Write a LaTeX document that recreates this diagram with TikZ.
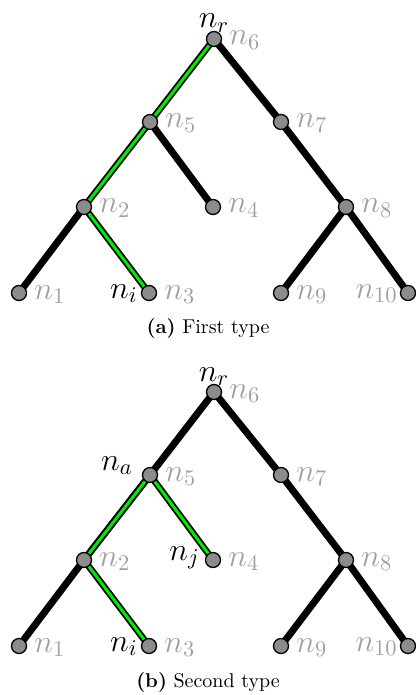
\RequirePackage{fix-cm}
\documentclass[tikz,border=0pt]{standalone}
\usetikzlibrary{backgrounds}
\definecolor{nodegray}{RGB}{140,140,140}
\definecolor{labelgray}{RGB}{160,160,160}
\definecolor{pathgreen}{RGB}{0,235,0}
\tikzset{
  vert/.style={circle,draw=black,line width=0.65pt,fill=nodegray,minimum size=7.5pt,inner sep=0pt},
  edge/.style={line width=3.5pt,black},
  pathout/.style={line width=3.3pt,black},
  pathin/.style={line width=1.5pt,pathgreen},
  idlbl/.style={text=labelgray,inner sep=0pt,font=\fontsize{16}{18}\selectfont},
  keylbl/.style={text=black,inner sep=0pt,font=\fontsize{16}{18}\selectfont},
  caption/.style={inner sep=0pt,font=\fontsize{10}{12}\selectfont}
}
\newcommand{\drawtree}[2]{%
  % #1: vertical offset (pt, downward), #2: prefix for node names
  \begin{scope}[yshift=-#1pt]
    \node[vert] (#2n6)  at (214,39)  {};
    \node[vert] (#2n5)  at (150,122) {};
    \node[vert] (#2n7)  at (281,122) {};
    \node[vert] (#2n2)  at (84,207)  {};
    \node[vert] (#2n4)  at (213,207) {};
    \node[vert] (#2n8)  at (346,207) {};
    \node[vert] (#2n1)  at (19,293)  {};
    \node[vert] (#2n3)  at (149,293) {};
    \node[vert] (#2n9)  at (281,293) {};
    \node[vert] (#2n10) at (408,293) {};
  \end{scope}
  \foreach \k in {1,...,9}{
    \node[idlbl,anchor=base west] (#2l\k) at ([xshift=7.5pt,yshift=-3pt]#2n\k.center) {$n_{\k}$};
  }
  \node[idlbl,anchor=base east] (#2l10) at ([xshift=-5pt,yshift=-2.5pt]#2n10.center) {$n_{10}$};
  \node[keylbl,anchor=base] (#2lr) at ([yshift=5.5pt]#2n6.center) {$n_r$};
  \node[keylbl,anchor=base east] (#2li) at ([xshift=-5.5pt,yshift=-2.5pt]#2n3.center) {$n_i$};
}
\begin{document}
\begin{tikzpicture}[x=0.5pt,y=-0.5pt]
  \useasboundingbox (0,0) rectangle (416,695);

  % ---- first type ----
  \drawtree{0}{a}
  \begin{scope}[on background layer]
    \draw[edge] (an6.center) -- (an7.center) -- (an8.center) -- (an10.center);
    \draw[edge] (an8.center) -- (an9.center);
    \draw[edge] (an5.center) -- (an4.center);
    \draw[edge] (an2.center) -- (an1.center);
    \draw[pathout] (an6.center) -- (an5.center) -- (an2.center) -- (an3.center);
    \draw[pathin]  (an6.center) -- (an5.center) -- (an2.center) -- (an3.center);
  \end{scope}
  \node[caption,anchor=base] (capa) at (208,333) {\textbf{(a)} First type};

  % ---- second type ----
  \drawtree{176.5}{b}
  \begin{scope}[on background layer]
    \draw[edge] (bn2.center) -- (bn5.center) -- (bn6.center) -- (bn7.center) -- (bn8.center) -- (bn10.center);
    \draw[edge] (bn8.center) -- (bn9.center);
    \draw[edge] (bn2.center) -- (bn1.center);
    \draw[pathout] (bn3.center) -- (bn2.center) -- (bn5.center) -- (bn4.center);
    \draw[pathin]  (bn3.center) -- (bn2.center) -- (bn5.center) -- (bn4.center);
  \end{scope}
  \node[keylbl,anchor=base east] (bla) at ([xshift=-8.5pt,yshift=2.5pt]bn5.center) {$n_a$};
  \node[keylbl,anchor=base east] (blj) at ([xshift=-6.5pt,yshift=0pt]bn4.center) {$n_j$};
  \node[caption,anchor=base] (capb) at (208,687) {\textbf{(b)} Second type};
\end{tikzpicture}
\end{document}
